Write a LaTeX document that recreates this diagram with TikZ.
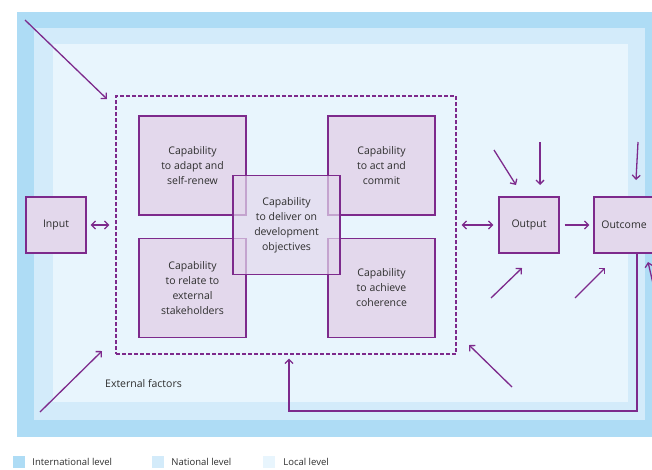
\documentclass[tikz,border=0pt]{standalone}
\usepackage{fontspec}
\setmainfont{Open Sans}
\usetikzlibrary{positioning,arrows.meta}
\definecolor{intl}{HTML}{AEDCF5}
\definecolor{natl}{HTML}{D3EBFA}
\definecolor{locl}{HTML}{E8F5FD}
\definecolor{purp}{HTML}{7D2A8C}
\definecolor{boxfill}{HTML}{E3D8EC}
\definecolor{txt}{HTML}{2E2E2E}
\tikzset{
  capbox/.style={draw=purp,fill=boxfill,line width=1.2pt,minimum width=107pt,minimum height=99pt,
    align=center,text=txt,font=\fontsize{10.5}{15}\selectfont},
  smallbox/.style={capbox,minimum width=60pt,minimum height=56pt},
  flow/.style={draw=purp,line width=1.3pt,->},
  legsq/.style={minimum size=12pt,inner sep=0pt},
  legtxt/.style={inner sep=0pt,text=txt,font=\fontsize{9.5}{11}\selectfont},
}
\begin{document}
\begin{tikzpicture}[x=1pt,y=-1pt,>={Straight Barb[length=4pt,width=8pt]}]
\useasboundingbox (0,0) rectangle (652,469);
% levels
\fill[intl] (17,12) rectangle (680,437);
\fill[natl] (34,28) rectangle (645,420);
\fill[locl] (53,44) rectangle (628,402);

% capabilities
\node [draw=purp,line width=1.2pt,dash pattern=on 4pt off 2pt,minimum width=340pt,minimum height=258pt] (core) at (286,225) {};
\node [capbox] (c1) at (192.5,165.5) {Capability\\to adapt and\\self-renew};
\node [capbox] (c2) at (381.5,165.5) {Capability\\to act and\\commit};
\node [capbox] (c3) at (192.5,288) {Capability\\to relate to\\external\\stakeholders};
\node [capbox] (c4) at (381.5,288) {Capability\\to achieve\\coherence};
\node [capbox,fill opacity=0.7,text opacity=1] (c5) at (286.5,225) {Capability\\to deliver on\\development\\objectives};

\node [smallbox] (input) at (56,225) {Input};
\node [smallbox] (output) at (529,225) {Output};
\node [smallbox] (outcome) at (624,225) {Outcome};
\node [anchor=west,inner sep=0pt,text=txt,font=\fontsize{10.5}{12}\selectfont] (ext) at (105,384) {External factors};

\draw [flow,<->,shorten <=4pt,shorten >=6pt] (input) -- (core);
\draw [flow,<->,shorten <=5pt,shorten >=5pt] (core) -- (output);
\draw [flow,shorten <=5pt,shorten >=4pt] (output) -- (outcome);
\coordinate (fb) at (637,411);
\draw [flow,shorten >=4pt] ([xshift=13pt]outcome.south) |- (fb) -| ([xshift=3pt]core.south);

% external factors
\coordinate (e1) at (25,20);   \coordinate (e1t) at (107,99);
\coordinate (e2) at (40,412);  \coordinate (e2t) at (102,351);
\coordinate (e3) at (494,150); \coordinate (e3t) at (516,185);
\coordinate (e4) at (540,142); \coordinate (e4t) at (540,185);
\coordinate (e5) at (638,142); \coordinate (e5t) at (636,180);
\coordinate (e6) at (491,298); \coordinate (e6t) at (522,268);
\coordinate (e7) at (575,298); \coordinate (e7t) at (605,268);
\coordinate (e8) at (512,387); \coordinate (e8t) at (469,345);
\coordinate (e9) at (658,305); \coordinate (e9t) at (648,262);
\draw [flow] (e1) -- (e1t);
\draw [flow] (e2) -- (e2t);
\draw [flow] (e3) -- (e3t);
\draw [flow] (e4) -- (e4t);
\draw [flow] (e5) -- (e5t);
\draw [flow] (e6) -- (e6t);
\draw [flow] (e7) -- (e7t);
\draw [flow] (e8) -- (e8t);
\draw [flow] (e9) -- (e9t);

% legend
\node [legsq,fill=intl] (l1) at (19,462) {};
\node [legtxt,right=7pt of l1] (l1t) {International level};
\node [legsq,fill=natl] (l2) at (158,462) {};
\node [legtxt,right=7pt of l2] (l2t) {National level};
\node [legsq,fill=locl] (l3) at (269,462) {};
\node [legtxt,right=8pt of l3] (l3t) {Local level};
\end{tikzpicture}
\end{document}
